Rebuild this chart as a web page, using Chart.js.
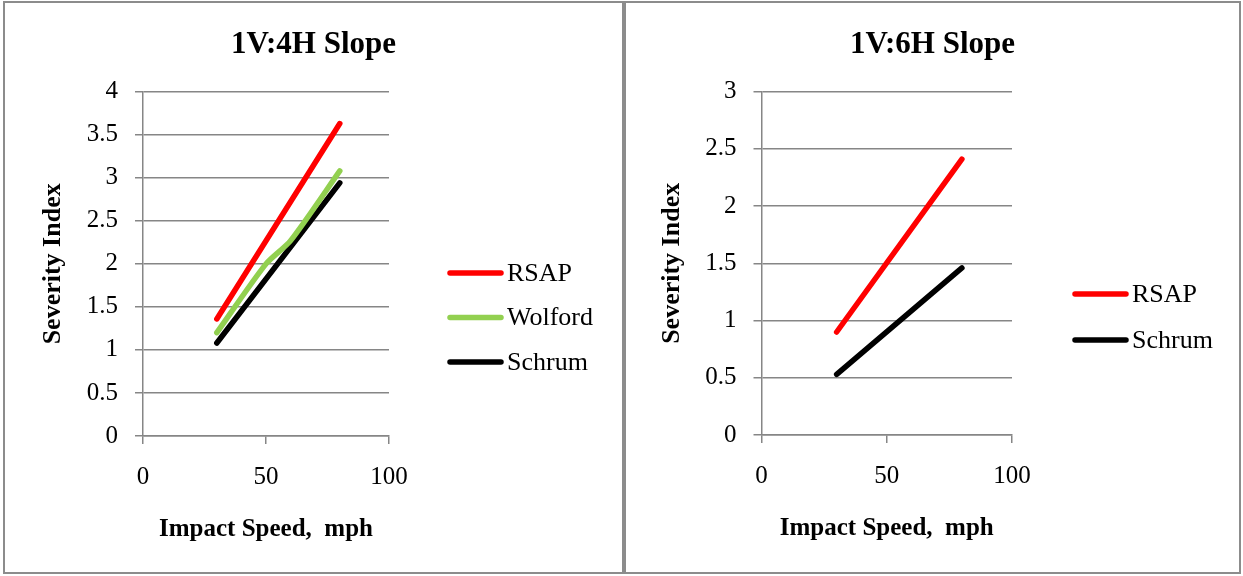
<!DOCTYPE html>
<html>
<head>
<meta charset="utf-8">
<script src="https://cdn.jsdelivr.net/npm/chart.js@4.4.1/dist/chart.umd.min.js"></script>
<style>
  html, body { margin: 0; padding: 0; background: #fff; }
  body { width: 1243px; height: 576px; position: relative; overflow: hidden; }
  .panel { position: absolute; top: 1px; border: 2px solid #8c8c8c; background: #fff; }
  #p1 { left: 3px; width: 617px; height: 569px; }
  #p2 { left: 624px; width: 613px; height: 569px; }
  canvas { display: block; }
</style>
</head>
<body>
<div class="panel" id="p1"><canvas id="c1" width="617" height="569"></canvas></div>
<div class="panel" id="p2"><canvas id="c2" width="613" height="569"></canvas></div>
<script>
// Severity index vs impact speed, two slope cases
const speeds = [30, 80];
const wolfordSpeeds = [30, 50, 60, 80];

const rsap4H = [1.36, 3.63];
const wolford4H = [1.20, 2.0, 2.27, 3.08];
const schrum4H = [1.08, 2.94];

const rsap6H = [0.90, 2.41];
const schrum6H = [0.53, 1.46];

const xTicks = [0, 50, 100];

const SERIF = "'Liberation Serif', 'Times New Roman', serif";
const GRID = '#868686';

function pts(xs, ys) { return xs.map((x, i) => ({ x: x, y: ys[i] })); }

// simple legend: short thick line + label, drawn at the right of the plot
const lineLegend = {
  id: 'lineLegend',
  afterDraw(chart, args, opts) {
    const ctx = chart.ctx;
    ctx.save();
    chart.data.datasets.forEach((ds, i) => {
      const y = opts.y0 + i * opts.gap;
      ctx.strokeStyle = ds.borderColor;
      ctx.lineWidth = 5.5;
      ctx.lineCap = 'round';
      ctx.beginPath();
      ctx.moveTo(opts.x0 + 2, y);
      ctx.lineTo(opts.x0 + 53, y);
      ctx.stroke();
      ctx.fillStyle = '#000';
      ctx.font = '26px ' + SERIF;
      ctx.textBaseline = 'middle';
      ctx.fillText(ds.label, opts.x0 + 59, y + 1);
    });
    ctx.restore();
  }
};

function makeChart(id, title, datasets, yMax, cfg) {
  const ctx = document.getElementById(id).getContext('2d');
  return new Chart(ctx, {
    type: 'line',
    data: { datasets: datasets },
    plugins: [lineLegend],
    options: {
      responsive: false,
      animation: false,
      layout: { padding: { left: 0, right: 0, top: 0, bottom: cfg.padBottom } },
      elements: { point: { radius: 0 }, line: { borderWidth: 5.5, borderCapStyle: 'round', borderJoinStyle: 'round' } },
      plugins: {
        legend: { display: false },
        tooltip: { enabled: false },
        title: {
          display: true, text: title, color: '#000',
          font: { family: SERIF, size: 31, weight: 'bold' },
          padding: { top: 23, bottom: 28.5 }
        },
        lineLegend: cfg.legend
      },
      scales: {
        x: {
          type: 'linear', min: 0, max: 100,
          afterBuildTicks: s => { s.ticks = xTicks.map(v => ({ value: v })); },
          afterFit: s => { s.height = 110; },
          grid: { drawOnChartArea: false, drawTicks: true, tickLength: 8, color: GRID, lineWidth: 1.5 },
          border: { color: GRID, width: 1.5 },
          ticks: { color: '#000', padding: 18, font: { family: SERIF, size: 25 } },
          title: {
            display: true, text: 'Impact Speed,  mph', color: '#000',
            font: { family: SERIF, size: 25, weight: 'bold' },
            padding: { top: 0, bottom: 1 }
          }
        },
        y: {
          min: 0, max: yMax,
          ticks: { stepSize: 0.5, color: '#000', padding: 17, font: { family: SERIF, size: 25 },
                   callback: v => String(v) },
          afterFit: s => { s.width = cfg.yWidth; },
          grid: { color: GRID, lineWidth: 1.5, tickLength: 8 },
          border: { color: GRID, width: 1.5 },
          title: {
            display: true, text: 'Severity Index', color: '#000',
            font: { family: SERIF, size: 26, weight: 'bold' },
            padding: { top: cfg.yTitlePad, bottom: 0 }
          }
        },
        // empty right-hand room for the legend
        room: {
          type: 'linear', position: 'right', min: 0, max: 1,
          afterFit: s => { s.width = cfg.room; },
          grid: { display: false }, border: { display: false }, ticks: { display: false }
        }
      }
    }
  });
}

makeChart('c1', '1V:4H Slope', [
  { label: 'RSAP', data: pts(speeds, rsap4H), borderColor: '#ff0000', backgroundColor: '#ff0000' },
  { label: 'Wolford', data: pts(wolfordSpeeds, wolford4H), borderColor: '#92d050', backgroundColor: '#92d050', tension: 0.25 },
  { label: 'Schrum', data: pts(speeds, schrum4H), borderColor: '#000000', backgroundColor: '#000000' }
], 4, { room: 233, padBottom: 26, yWidth: 138, yTitlePad: 33, legend: { x0: 443, y0: 270, gap: 44.5 } });

makeChart('c2', '1V:6H Slope', [
  { label: 'RSAP', data: pts(speeds, rsap6H), borderColor: '#ff0000', backgroundColor: '#ff0000' },
  { label: 'Schrum', data: pts(speeds, schrum6H), borderColor: '#000000', backgroundColor: '#000000' }
], 3, { room: 227, padBottom: 27, yWidth: 135.5, yTitlePad: 31, legend: { x0: 447, y0: 291, gap: 46 } });
</script>
</body>
</html>
